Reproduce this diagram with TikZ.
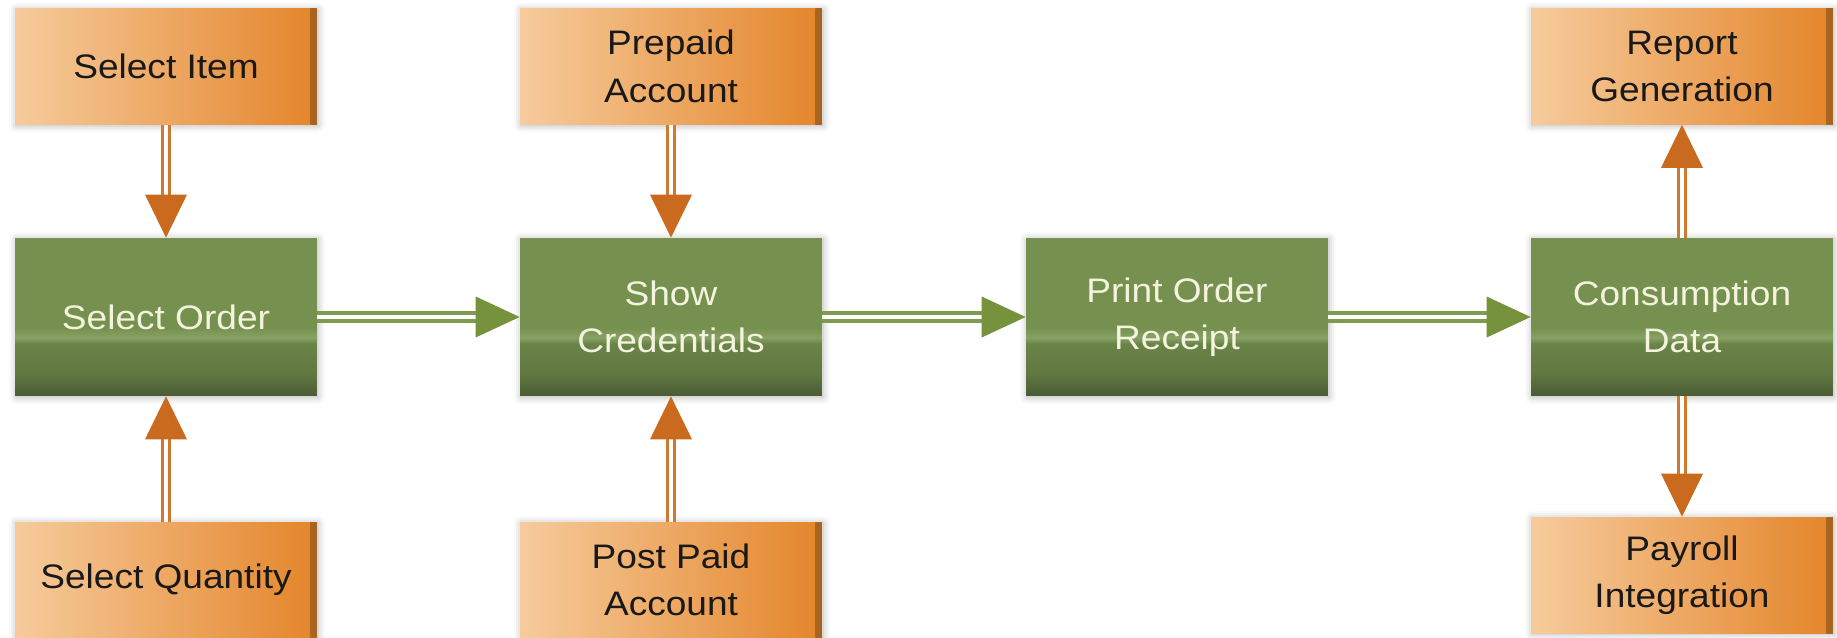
\documentclass[tikz,border=0pt]{standalone}
\usepackage{fontspec}
\setmainfont{Liberation Sans}[FakeStretch=1.09]
\usetikzlibrary{calc,shadows.blur}
\definecolor{orL}{HTML}{F6CB9C}
\definecolor{orR}{HTML}{E4852A}
\definecolor{orEdge}{HTML}{A8641F}
\definecolor{gTop}{HTML}{76914F}
\definecolor{gBand}{HTML}{88A164}
\definecolor{gMid}{HTML}{6A8447}
\definecolor{gBot}{HTML}{4A5B33}
\definecolor{arrO}{HTML}{C96A1E}
\definecolor{arrOl}{HTML}{CE7A2F}
\definecolor{arrG}{HTML}{76923C}
\definecolor{arrGl}{HTML}{7E9A4E}
\definecolor{txtG}{HTML}{F3F3DE}
\pgfdeclareverticalshading{greenbox}{100bp}{color(0bp)=(gBot); color(25bp)=(gBot); color(32bp)=(gMid!70!gBot); color(41.5bp)=(gMid); color(43.5bp)=(gBand); color(46.5bp)=(gTop); color(75bp)=(gTop); color(100bp)=(gTop)}
\newcommand{\boxfont}{\fontsize{19.35}{27}\selectfont}
\tikzset{
  boxshadow/.style={blur shadow={shadow xshift=0.6pt, shadow yshift=-0.6pt, shadow blur radius=4pt, shadow opacity=30}},
  orbox/.style={minimum width=6.04cm, minimum height=2.32cm, inner sep=0pt, align=center,
    left color=orL, right color=orR, text=black!90, font=\boxfont, boxshadow,
    path picture={\shade[left color=orR, right color=orEdge]
      ([xshift=-0.13cm]path picture bounding box.north east) rectangle (path picture bounding box.south east);}},
  gbox/.style={minimum width=6.04cm, minimum height=3.16cm, inner sep=0pt, align=center,
    shade, shading=greenbox, text=txtG, font=\boxfont, boxshadow},
  oshaft/.style={draw=arrOl, double=white, line width=1.9pt, double distance=1.9pt},
  gshaft/.style={draw=arrGl, double=white, line width=2.4pt, double distance=1.8pt},
}
\newcommand{\vdown}[2]{%
  \draw[oshaft] (#1.south) -- ($(#2.north)+(0,-41)$);
  \fill[arrO] (#2.north) -- ++(-21,-43) -- ++(42,0) -- cycle;}
\newcommand{\vup}[2]{%
  \draw[oshaft] (#1.north) -- ($(#2.south)+(0,41)$);
  \fill[arrO] (#2.south) -- ++(-21,43) -- ++(42,0) -- cycle;}
\newcommand{\hright}[2]{%
  \draw[gshaft] (#1.east) -- ($(#2.west)+(-42,0)$);
  \fill[arrG] (#2.west) -- ++(-44,-20.5) -- ++(0,41) -- cycle;}
\begin{document}
\begin{tikzpicture}[x=0.02cm, y=-0.02cm]
  \useasboundingbox (0,0) rectangle (1837,637);
  \node[orbox] (item) at (166,66.5) {Select Item};
  \node[gbox]  (order) at (166,317) {Select Order};
  \node[orbox] (qty) at (166,580) {Select Quantity};
  \node[orbox] (pre) at (671,66.5) {Prepaid\\Account};
  \node[gbox]  (cred) at (671,317) {Show\\Credentials};
  \node[orbox] (post) at (671,580) {Post Paid\\Account};
  \node[gbox]  (print) at (1177,317) {Print Order\\Receipt};
  \node[gbox]  (cons) at (1682,317) {Consumption\\Data};
  \node[orbox] (rep) at (1682,66.5) {Report\\Generation};
  \node[orbox] (pay) at (1682,575) {Payroll\\Integration};
  \vdown{item}{order}
  \vup{qty}{order}
  \vdown{pre}{cred}
  \vup{post}{cred}
  \vup{cons}{rep}
  \vdown{cons}{pay}
  \hright{order}{cred}
  \hright{cred}{print}
  \hright{print}{cons}
\end{tikzpicture}
\end{document}
